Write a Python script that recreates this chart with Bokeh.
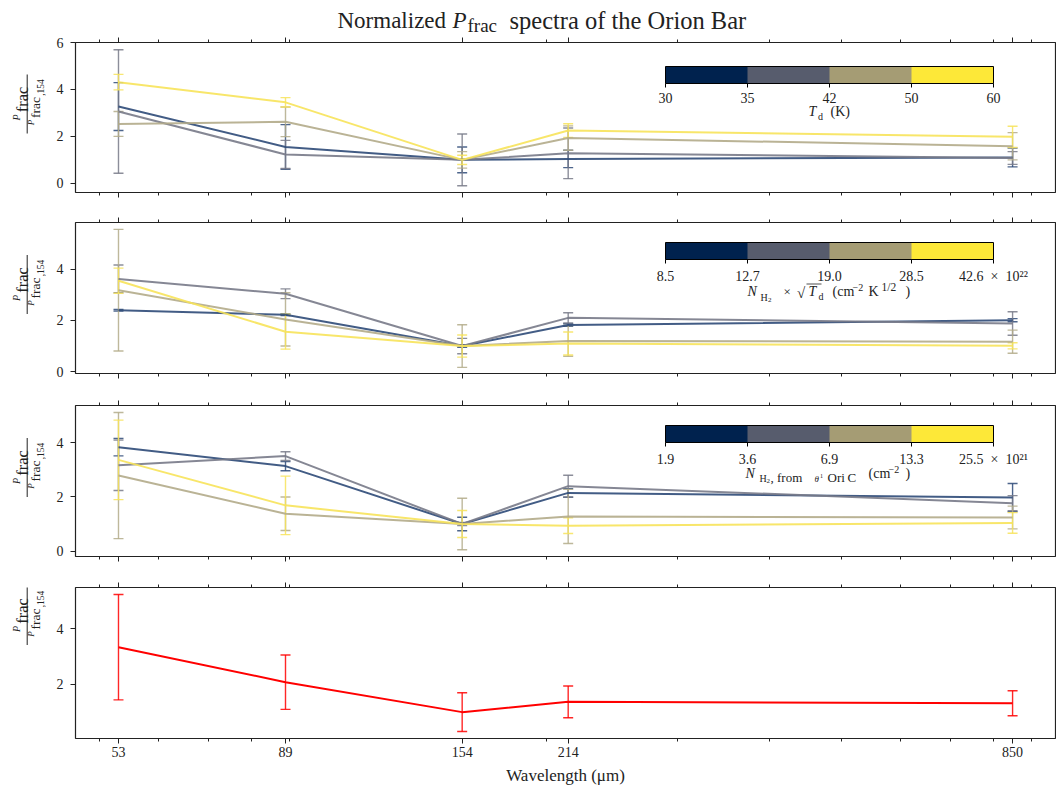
import math
from bokeh.plotting import figure
from bokeh.layouts import column, row
from bokeh.models import (Range1d, FixedTicker, LogAxis, BasicTickFormatter, Whisker, TeeHead,
                          ColumnDataSource, ColorBar, LinearColorMapper, Label, Arrow)
from bokeh.embed import file_html
from bokeh.resources import INLINE

# ---------------- data ----------------
wavelengths = [53, 89, 154, 214, 850]
x_tick_values = [53, 89, 154, 214, 850]
x_minor_values = [50, 60, 70, 80, 90, 200, 300, 400, 500, 600, 700, 800, 900]

# Panel 1: pixels binned by dust temperature T_d (K)
td_edges = ["30", "35", "42", "50", "60"]
td_30_35 = [3.27, 1.55, 1.00, 1.04, 1.10]
td_30_35_err = [1.02, 0.95, 0.55, 0.37, 0.40]
td_35_42 = [3.06, 1.23, 1.00, 1.28, 1.08]
td_35_42_err = [2.63, 0.60, 1.10, 1.08, 0.27]
td_42_50 = [2.53, 2.62, 1.00, 1.93, 1.58]
td_42_50_err = [0.53, 0.63, 0.35, 0.52, 0.58]
td_50_60 = [4.31, 3.45, 1.00, 2.25, 1.98]
td_50_60_err = [0.33, 0.20, 0.20, 0.29, 0.45]

# Panel 2: binned by N_H2 x sqrt(T_d)
nt_edges = ["8.5", "12.7", "19.0", "28.5", "42.6\u2002\u00d7\u200210\u00b2\u00b2"]
nt_bin1 = [2.40, 2.22, 1.00, 1.82, 2.01]
nt_bin1_err = [0.03, 0.03, 0.05, 0.05, 0.06]
nt_bin2 = [3.62, 3.04, 1.00, 2.10, 1.88]
nt_bin2_err = [0.54, 0.19, 0.30, 0.20, 0.46]
nt_bin3 = [3.18, 2.04, 1.00, 1.20, 1.17]
nt_bin3_err = [2.37, 1.04, 0.83, 0.60, 0.45]
nt_bin4 = [3.55, 1.56, 1.00, 1.10, 1.01]
nt_bin4_err = [0.49, 0.68, 0.43, 0.45, 0.12]

# Panel 3: binned by N_H2 from theta1 Ori C
nh_edges = ["1.9", "3.6", "6.9", "13.3", "25.5\u2002\u00d7\u200210\u00b2\u00b9"]
nh_bin1 = [3.84, 3.14, 1.00, 2.15, 1.98]
nh_bin1_err = [0.32, 0.17, 0.25, 0.16, 0.52]
nh_bin2 = [3.17, 3.51, 1.00, 2.40, 1.77]
nh_bin2_err = [0.93, 0.16, 0.06, 0.40, 0.28]
nh_bin3 = [2.79, 1.38, 1.00, 1.28, 1.24]
nh_bin3_err = [2.33, 0.62, 0.95, 1.00, 0.42]
nh_bin4 = [3.37, 1.69, 1.00, 0.94, 1.04]
nh_bin4_err = [1.47, 1.08, 0.50, 0.29, 0.38]

# Panel 4: whole Orion Bar
all_bar = [3.34, 2.08, 1.00, 1.37, 1.32]
all_bar_err = [1.90, 0.98, 0.70, 0.57, 0.45]

# ---------------- style ----------------
SERIF = "Liberation Serif"
INK = "#222222"
line_colors = ["#2e4a78", "#787a88", "#b3ab89", "#f7e35a"]
cbar_palette = ["#00224e", "#575c6d", "#a59c74", "#fde838"]
YLAB_W = 46
FRAME_W = 980
LEFT_BORDER = 29
FRAME_LEFT_PAGE = YLAB_W + LEFT_BORDER   # 75
TITLE_H = 36
BASE_SHIFT = 0.3   # Bokeh puts the text box bottom (not the baseline) at y for 'alphabetic'


def style_x_axis(ax, show_labels):
    ax.ticker = FixedTicker(ticks=x_tick_values, minor_ticks=x_minor_values)
    ax.formatter = BasicTickFormatter()
    ax.axis_line_color = None
    ax.major_tick_line_color = INK
    ax.minor_tick_line_color = INK
    ax.major_tick_in = 0
    ax.major_tick_out = 5
    ax.minor_tick_in = 0
    ax.minor_tick_out = 3
    if show_labels:
        ax.major_label_text_font = SERIF
        ax.major_label_text_font_size = "14px"
        ax.major_label_text_color = INK
        ax.major_label_standoff = 3
    else:
        ax.major_label_text_font_size = "1px"
        ax.major_label_text_color = None
        ax.major_label_standoff = 0


def make_fig(y_lo, y_hi, yticks, frame_h, top, bottom, show_x_labels):
    p = figure(x_axis_type="log", x_range=Range1d(46.38, 971.1), y_range=Range1d(y_lo, y_hi),
               frame_width=FRAME_W, frame_height=frame_h,
               min_border_left=LEFT_BORDER, min_border_right=1,
               min_border_top=top, min_border_bottom=bottom,
               output_backend="svg", toolbar_location=None)
    p.xgrid.visible = False
    p.ygrid.visible = False
    p.outline_line_color = INK
    p.outline_line_width = 1.2
    p.background_fill_color = "white"
    p.border_fill_color = "white"
    style_x_axis(p.below[0], show_x_labels)
    top_axis = LogAxis()
    style_x_axis(top_axis, False)
    p.add_layout(top_axis, "above")
    ya = p.left[0]
    ya.ticker = FixedTicker(ticks=yticks)
    ya.axis_line_color = None
    ya.major_tick_line_color = INK
    ya.major_tick_in = 0
    ya.major_tick_out = 5
    ya.minor_tick_line_color = None
    ya.major_label_text_font = SERIF
    ya.major_label_text_font_size = "14px"
    ya.major_label_text_color = INK
    ya.major_label_standoff = 7
    return p


def text_fig(width, height):
    f = figure(width=width, height=height, min_border=0, x_axis_location=None, y_axis_location=None,
               toolbar_location=None, output_backend="svg", outline_line_color=None,
               x_range=Range1d(0, 1), y_range=Range1d(0, 1))
    f.xgrid.visible = False
    f.ygrid.visible = False
    f.background_fill_color = "white"
    f.border_fill_color = "white"
    return f


def add_series(p, values, errors, color, lw=2.0, alpha=0.9):
    src = ColumnDataSource(dict(
        x=wavelengths, y=values,
        lower=[v - e for v, e in zip(values, errors)],
        upper=[v + e for v, e in zip(values, errors)]))
    head = dict(size=10, line_color=color, line_width=1.4, line_alpha=0.85)
    p.add_layout(Whisker(base="x", upper="upper", lower="lower", source=src, dimension="height",
                         line_color=color, line_width=1.4, line_alpha=0.85,
                         upper_head=TeeHead(**head), lower_head=TeeHead(**head)))
    p.line(x="x", y="y", source=src, line_color=color, line_width=lw, line_alpha=alpha)


def put(p, left, bottom, px, py, text, size, italic=False, align="left", baseline="alphabetic", angle=0.0):
    """Place text at page coordinates (px, py); left/bottom are the page coords of the frame corner."""
    if baseline == "alphabetic" and angle == 0.0:
        py = py - BASE_SHIFT * size
    p.add_layout(Label(x=px - left, y=bottom - py, x_units="screen", y_units="screen",
                       text=text, text_font=SERIF, text_font_size=f"{size}px",
                       text_font_style="italic" if italic else "normal",
                       text_align=align, text_baseline=baseline, angle=angle, text_color=INK))


def seg(p, left, bottom, x0, y0, x1, y1, w=1.0):
    p.add_layout(Arrow(end=None, x_start=x0 - left, y_start=bottom - y0,
                       x_end=x1 - left, y_end=bottom - y1,
                       start_units="screen", end_units="screen", line_color=INK, line_width=w))


def ylabel_fig(row_top, height, yc):
    f = text_fig(YLAB_W, height)
    b = row_top + height
    rot = math.pi / 2
    put(f, 0, b, 15.5, yc + 15, "P", 10, italic=True, align="center", baseline="middle", angle=rot)
    put(f, 0, b, 21.5, yc - 3, "frac", 16.5, align="center", baseline="middle", angle=rot)
    seg(f, 0, b, 26.7, yc - 28, 26.7, yc + 31)
    put(f, 0, b, 30.5, yc + 20, "P", 9, italic=True, align="center", baseline="middle", angle=rot)
    put(f, 0, b, 34.5, yc + 5, "frac", 13.5, align="center", baseline="middle", angle=rot)
    put(f, 0, b, 39.5, yc - 15, ",154", 9.5, align="center", baseline="middle", angle=rot)
    return f


def add_colorbar(p, labels, loc):
    cb = ColorBar(color_mapper=LinearColorMapper(palette=cbar_palette, low=0, high=4),
                  orientation="horizontal", location=loc, width=328, height=17,
                  padding=0, margin=0, title=None,
                  ticker=FixedTicker(ticks=[0, 1, 2, 3, 4]),
                  major_label_overrides={i: t for i, t in enumerate(labels)},
                  major_label_text_font=SERIF, major_label_text_font_size="14px",
                  major_label_text_color=INK, label_standoff=5,
                  major_tick_in=0, major_tick_out=4, major_tick_line_color="black",
                  minor_tick_line_color=None,
                  bar_line_color="black", bar_line_width=1,
                  background_fill_alpha=0, border_line_color=None)
    p.add_layout(cb)


L = FRAME_LEFT_PAGE

# ---------------- title ----------------
tf = text_fig(YLAB_W + LEFT_BORDER + FRAME_W + 1, TITLE_H)
put(tf, 0, TITLE_H, 337, 27, "Normalized", 23)
put(tf, 0, TITLE_H, 452, 27, "P", 23, italic=True)
put(tf, 0, TITLE_H, 467, 31, "frac", 19)
put(tf, 0, TITLE_H, 509, 27, "spectra of the Orion Bar", 24.5)

# ---------------- panel 1 ----------------
FH1 = 150
R1_TOP, R1_H = TITLE_H, 6 + FH1 + 15
p1 = make_fig(-0.39, 6.0, [0, 2, 4, 6], FH1, 6, 15, False)
for vals, errs, c in [(td_30_35, td_30_35_err, line_colors[0]), (td_35_42, td_35_42_err, line_colors[1]),
                      (td_42_50, td_42_50_err, line_colors[2]), (td_50_60, td_50_60_err, line_colors[3])]:
    add_series(p1, vals, errs, c)
add_colorbar(p1, td_edges, (590, 87))
FB1 = R1_TOP + 6 + FH1
put(p1, L, FB1, 808, 115, "T", 14, italic=True)
put(p1, L, FB1, 817.5, 119, "d", 10)
put(p1, L, FB1, 830, 115, "(K)", 14)
y1 = ylabel_fig(R1_TOP, R1_H, (FB1 - FH1 + FB1) / 2)

# ---------------- panel 2 ----------------
FH = 151
R2_TOP, R2_H = R1_TOP + R1_H, 15 + FH + 15
p2 = make_fig(-0.07, 5.82, [0, 2, 4], FH, 15, 15, False)
for vals, errs, c in [(nt_bin1, nt_bin1_err, line_colors[0]), (nt_bin2, nt_bin2_err, line_colors[1]),
                      (nt_bin3, nt_bin3_err, line_colors[2]), (nt_bin4, nt_bin4_err, line_colors[3])]:
    add_series(p2, vals, errs, c)
add_colorbar(p2, nt_edges, (590, 87))
FB2 = R2_TOP + 15 + FH
put(p2, L, FB2, 747, 295, "N", 14, italic=True)
put(p2, L, FB2, 760, 299.5, "H", 10)
put(p2, L, FB2, 767.5, 301.5, "2", 7)
put(p2, L, FB2, 783, 295, "\u00d7", 13)
put(p2, L, FB2, 796.5, 297, "\u221a", 15)
seg(p2, L, FB2, 806, 283.5, 821, 283.5, 0.8)
put(p2, L, FB2, 808, 295, "T", 14, italic=True)
put(p2, L, FB2, 818, 299, "d", 10)
put(p2, L, FB2, 832, 295, "(cm", 14)
put(p2, L, FB2, 852, 290, "\u22122", 10)
put(p2, L, FB2, 868, 295, "K", 14)
put(p2, L, FB2, 881, 290, "1/2", 11.5)
put(p2, L, FB2, 905, 295, ")", 14)
y2 = ylabel_fig(R2_TOP, R2_H, (FB2 - FH + FB2) / 2)

# ---------------- panel 3 ----------------
R3_TOP, R3_H = R2_TOP + R2_H, 17 + FH + 15
p3 = make_fig(-0.2, 5.38, [0, 2, 4], FH, 17, 15, False)
for vals, errs, c in [(nh_bin1, nh_bin1_err, line_colors[0]), (nh_bin2, nh_bin2_err, line_colors[1]),
                      (nh_bin3, nh_bin3_err, line_colors[2]), (nh_bin4, nh_bin4_err, line_colors[3])]:
    add_series(p3, vals, errs, c)
add_colorbar(p3, nh_edges, (590, 87))
FB3 = R3_TOP + 17 + FH
put(p3, L, FB3, 745, 477, "N", 14, italic=True)
put(p3, L, FB3, 759, 481, "H", 10)
put(p3, L, FB3, 766, 483, "2", 7)
put(p3, L, FB3, 770, 481, ", from", 13)
put(p3, L, FB3, 814, 481, "\u03b8", 9, italic=True)
put(p3, L, FB3, 819.5, 477, "1", 6)
put(p3, L, FB3, 827, 481, "Ori\u2009C", 13)
put(p3, L, FB3, 868, 477, "(cm", 14)
put(p3, L, FB3, 888, 472, "\u22122", 10)
put(p3, L, FB3, 905, 477, ")", 14)
y3 = ylabel_fig(R3_TOP, R3_H, (FB3 - FH + FB3) / 2)

# ---------------- panel 4 ----------------
R4_TOP = R3_TOP + R3_H
p4 = make_fig(0.05, 5.49, [2, 4], FH, 16, 40, True)
add_series(p4, all_bar, all_bar_err, "#ff0000", lw=2.0, alpha=1.0)
FB4 = R4_TOP + 16 + FH
xa = p4.below[0]
xa.axis_label = "Wavelength (\u03bcm)"
xa.axis_label_text_font = SERIF
xa.axis_label_text_font_size = "17px"
xa.axis_label_text_font_style = "normal"
xa.axis_label_text_color = INK
xa.axis_label_standoff = 6
y4 = ylabel_fig(R4_TOP, 200, (FB4 - FH + FB4) / 2)

layout = column(tf, row(y1, p1), row(y2, p2), row(y3, p3), row(y4, p4))
open("out.html", "w").write(file_html(layout, INLINE))
